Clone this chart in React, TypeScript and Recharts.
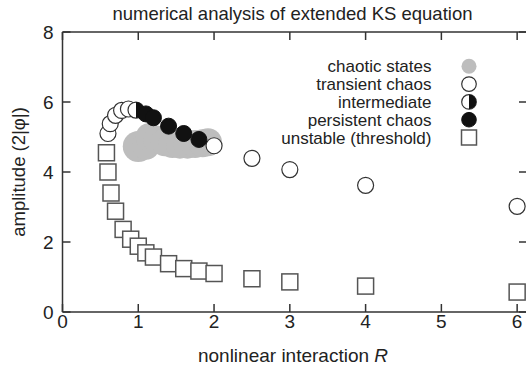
import { ScatterChart, Scatter, XAxis, YAxis } from 'recharts';

const FONT = '"Liberation Sans", Arial, Helvetica, sans-serif';
const INK = '#222';
const AXIS = '#333';

const X_TICKS = [0, 1, 2, 3, 4, 5, 6];
const Y_TICKS = [0, 2, 4, 6, 8];

// chaotic states (large grey discs)
const chaoticR = [1.0, 1.1, 1.15, 1.25, 1.35, 1.45, 1.55, 1.65, 1.75, 1.85, 1.92];
const chaoticAmp = [4.73, 4.75, 5.0, 4.92, 4.85, 4.8, 4.78, 4.78, 4.8, 4.82, 4.85];

// transient chaos (open circles)
const transientR = [0.6, 0.63, 0.7, 0.78, 0.87, 2.0, 2.5, 3.0, 4.0, 6.0];
const transientAmp = [5.1, 5.38, 5.62, 5.76, 5.8, 4.75, 4.39, 4.07, 3.62, 3.02];

// intermediate (half-filled)
const intermediateR = [0.97];
const intermediateAmp = [5.77];

// persistent chaos (filled)
const persistentR = [1.1, 1.2, 1.4, 1.6, 1.8];
const persistentAmp = [5.66, 5.55, 5.31, 5.1, 4.93];

// unstable threshold (open squares)
const unstableR = [0.58, 0.6, 0.64, 0.7, 0.8, 0.9, 1.0, 1.1, 1.2, 1.4, 1.6, 1.8, 2.0, 2.5, 3.0, 4.0, 6.0];
const unstableAmp = [4.55, 4.0, 3.4, 2.88, 2.36, 2.08, 1.88, 1.69, 1.57, 1.38, 1.24, 1.17, 1.1, 0.95, 0.86, 0.74, 0.57];

const zip = (xs: number[], ys: number[]) => xs.map((x, i) => ({ x, y: ys[i] }));

const chaotic = zip(chaoticR, chaoticAmp);
const transient = zip(transientR, transientAmp);
const intermediate = zip(intermediateR, intermediateAmp);
const persistent = zip(persistentR, persistentAmp);
const unstable = zip(unstableR, unstableAmp);

const LEGEND = [
  { label: 'chaotic states', kind: 'grey' },
  { label: 'transient chaos', kind: 'open' },
  { label: 'intermediate', kind: 'half' },
  { label: 'persistent chaos', kind: 'filled' },
  { label: 'unstable (threshold)', kind: 'square' },
];

function GreyDot({ cx, cy, index }: any) {
  // the first disc of the cluster is a bit larger
  return <circle cx={cx} cy={cy} r={index === 0 ? 15.5 : 14} fill="#bdbdbd" />;
}

function OpenDot({ cx, cy, r = 8 }: any) {
  return <circle cx={cx} cy={cy} r={r} fill="#fff" stroke={AXIS} strokeWidth={1.2} />;
}

function HalfDot({ cx, cy, r = 8 }: any) {
  return (
    <g>
      <circle cx={cx} cy={cy} r={r} fill="#fff" stroke={AXIS} strokeWidth={1.2} />
      <path d={`M${cx},${cy - r} A${r},${r} 0 0 1 ${cx},${cy + r} Z`} fill="#111" />
    </g>
  );
}

function FilledDot({ cx, cy, r = 8 }: any) {
  return <circle cx={cx} cy={cy} r={r} fill="#111" stroke="#111" strokeWidth={1} />;
}

function SquareMark({ cx, cy, s = 8 }: any) {
  return (
    <rect x={cx - s} y={cy - s} width={2 * s} height={2 * s} fill="#fff" stroke="#555" strokeWidth={1.5} />
  );
}

function BottomTick({ x, y, payload }: any) {
  return (
    <g>
      <line x1={x} y1={y} x2={x} y2={y - 8} stroke={AXIS} strokeWidth={1.5} />
      <text x={x} y={y + 15.5} textAnchor="middle" fontSize={19} fill={INK} fontFamily={FONT}>
        {payload.value}
      </text>
    </g>
  );
}

function TopTick({ x, y }: any) {
  return <line x1={x} y1={y} x2={x} y2={y + 8} stroke={AXIS} strokeWidth={1.5} />;
}

function LeftTick({ x, y, payload }: any) {
  return (
    <g>
      <line x1={x} y1={y} x2={x + 8} y2={y} stroke={AXIS} strokeWidth={1.5} />
      <text x={x - 9} y={y + 6.8} textAnchor="end" fontSize={19} fill={INK} fontFamily={FONT}>
        {payload.value}
      </text>
    </g>
  );
}

function RightTick({ x, y }: any) {
  return <line x1={x} y1={y} x2={x - 8} y2={y} stroke={AXIS} strokeWidth={1.5} />;
}

function LegendBlock() {
  const textX = 431.5;
  const markX = 469;
  return (
    <g fontFamily={FONT} fontSize={17} fill={INK}>
      {LEGEND.map((item, i) => {
        const cy = 66.3 + i * 17.8;
        return (
          <g key={item.label}>
            <text x={textX} y={cy + 6} textAnchor="end">
              {item.label}
            </text>
            {item.kind === 'grey' && <circle cx={markX} cy={cy} r={7.5} fill="#bdbdbd" />}
            {item.kind === 'open' && <OpenDot cx={markX} cy={cy} r={7.3} />}
            {item.kind === 'half' && <HalfDot cx={markX} cy={cy} r={7.3} />}
            {item.kind === 'filled' && <FilledDot cx={markX} cy={cy} r={7.3} />}
            {item.kind === 'square' && <SquareMark cx={markX} cy={cy} s={7.5} />}
          </g>
        );
      })}
    </g>
  );
}

export default function App() {
  return (
    <div style={{ position: 'fixed', left: 0, top: 0, width: 526, height: 372, overflow: 'hidden', background: '#fff' }}>
      <ScatterChart width={540} height={372} margin={{ top: 0, right: 0, bottom: 0, left: 0 }}>
        <XAxis
          xAxisId={0}
          type="number"
          dataKey="x"
          domain={[0, 6.13]}
          ticks={X_TICKS}
          allowDataOverflow
          height={60}
          tickSize={0}
          tickMargin={0}
          tick={BottomTick}
          axisLine={{ stroke: AXIS, strokeWidth: 1.5 }}
        />
        <XAxis
          xAxisId="top"
          orientation="top"
          type="number"
          dataKey="x"
          domain={[0, 6.13]}
          ticks={X_TICKS}
          allowDataOverflow
          height={32}
          tickSize={0}
          tickMargin={0}
          tick={TopTick}
          axisLine={{ stroke: AXIS, strokeWidth: 1.5 }}
        />
        <YAxis
          yAxisId={0}
          type="number"
          dataKey="y"
          domain={[0, 8]}
          ticks={Y_TICKS}
          allowDataOverflow
          width={62.5}
          tickSize={0}
          tickMargin={0}
          tick={LeftTick}
          axisLine={{ stroke: AXIS, strokeWidth: 1.5 }}
        />
        <YAxis
          yAxisId="right"
          orientation="right"
          type="number"
          dataKey="y"
          domain={[0, 8]}
          ticks={Y_TICKS}
          allowDataOverflow
          width={13}
          tickSize={0}
          tickMargin={0}
          tick={RightTick}
          axisLine={{ stroke: AXIS, strokeWidth: 1.5 }}
        />
        <Scatter data={chaotic} shape={GreyDot} isAnimationActive={false} />
        <Scatter data={unstable} shape={SquareMark} isAnimationActive={false} />
        <Scatter data={transient} shape={OpenDot} isAnimationActive={false} />
        <Scatter data={intermediate} shape={HalfDot} isAnimationActive={false} />
        <Scatter data={persistent} shape={FilledDot} isAnimationActive={false} />

        <text x={292.5} y={20} textAnchor="middle" fontSize={18.5} fill={INK} fontFamily={FONT}>
          numerical analysis of extended KS equation
        </text>
        <text x={293} y={362} textAnchor="middle" fontSize={19} fill={INK} fontFamily={FONT}>
          nonlinear interaction <tspan fontStyle="italic">R</tspan>
        </text>
        <text
          x={18}
          y={172}
          transform="rotate(-90 18 172)"
          textAnchor="middle"
          dominantBaseline="central"
          fontSize={18.5}
          fill={INK}
          fontFamily={FONT}
        >
          amplitude (2|φ|)
        </text>
        <LegendBlock />
      </ScatterChart>
    </div>
  );
}
